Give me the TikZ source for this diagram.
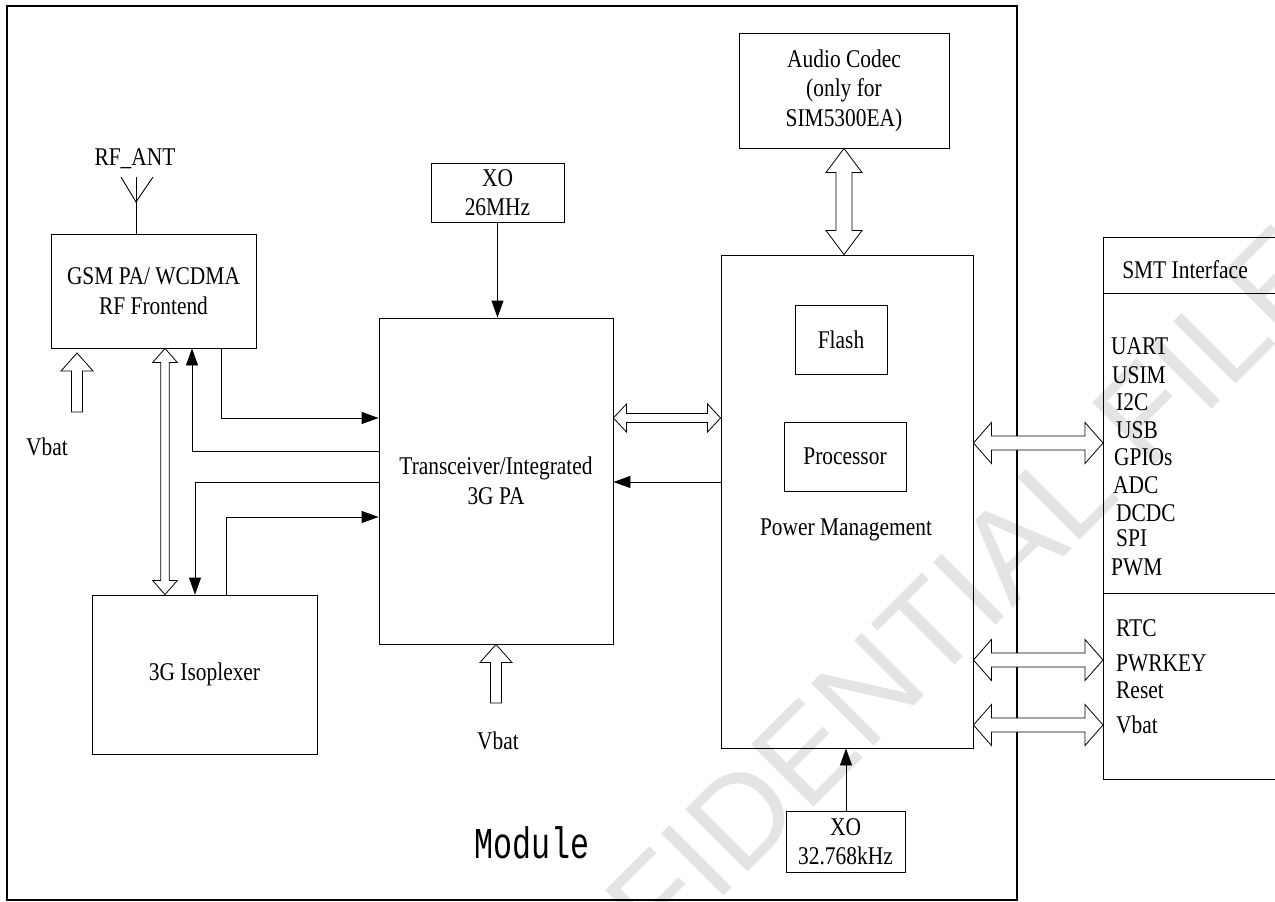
\documentclass[tikz,border=0pt]{standalone}
\usepackage{fontspec}
\setmainfont{Liberation Serif}[FakeStretch=0.84]
\newfontfamily\modfont{Liberation Mono}[FakeStretch=0.72]
\newfontfamily\wmfont{Liberation Sans}
\usetikzlibrary{arrows.meta,calc}
\definecolor{wm}{RGB}{228,228,228}
\tikzset{
  box/.style={draw, line width=0.9pt, inner sep=0pt, align=center},
  txt/.style={inner sep=0pt, align=center},
  lbl/.style={inner sep=0pt, anchor=west},
  arr/.style={line width=0.9pt, -{Triangle[length=17pt,width=12pt]}},
  wire/.style={line width=0.9pt},
  hollow/.style={draw, line width=0.8pt, fill=white, line join=miter},
}
% horizontal double hollow arrow: #1 left point, #2 right point, #3 shaft half, #4 head half, #5 head length
\newcommand\HDArrow[5]{%
  \path[hollow] let \p1=#1, \p2=#2 in
    (\x1,\y1) -- ({\x1+#5pt},{\y1+#4pt}) -- ({\x1+#5pt},{\y1+#3pt}) -- ({\x2-#5pt},{\y1+#3pt})
    -- ({\x2-#5pt},{\y1+#4pt}) -- (\x2,\y1) -- ({\x2-#5pt},{\y1-#4pt}) -- ({\x2-#5pt},{\y1-#3pt})
    -- ({\x1+#5pt},{\y1-#3pt}) -- ({\x1+#5pt},{\y1-#4pt}) -- cycle;}
% vertical double hollow arrow: #1 top point, #2 bottom point
\newcommand\VDArrow[5]{%
  \path[hollow] let \p1=#1, \p2=#2 in
    (\x1,\y1) -- ({\x1+#4pt},{\y1-#5pt}) -- ({\x1+#3pt},{\y1-#5pt}) -- ({\x1+#3pt},{\y2+#5pt})
    -- ({\x1+#4pt},{\y2+#5pt}) -- (\x1,\y2) -- ({\x1-#4pt},{\y2+#5pt}) -- ({\x1-#3pt},{\y2+#5pt})
    -- ({\x1-#3pt},{\y1-#5pt}) -- ({\x1-#4pt},{\y1-#5pt}) -- cycle;}
% single hollow up arrow: #1 tip, #2 bottom
\newcommand\UpHollow[5]{%
  \path[hollow] let \p1=#1, \p2=#2 in
    (\x1,\y1) -- ({\x1+#4pt},{\y1-#5pt}) -- ({\x1+#3pt},{\y1-#5pt}) -- ({\x1+#3pt},\y2)
    -- ({\x1-#3pt},\y2) -- ({\x1-#3pt},{\y1-#5pt}) -- ({\x1-#4pt},{\y1-#5pt}) -- cycle;}

\begin{document}
\begin{tikzpicture}[x=1pt,y=-1pt,font=\fontsize{25.5}{29.5}\selectfont]
\useasboundingbox (0,0) rectangle (1275,902);
\fill[white] (0,0) rectangle (1275,902);

% watermark
\node[rotate=45, text=wm, inner sep=0pt, font=\wmfont\fontsize{128}{128}\selectfont] (wmk) at (868,690) {CONFIDENTIAL FILE};

% module frame
\draw[line width=1.3pt] (7,6) rectangle (1017,900);
\node[txt, font=\modfont\fontsize{44}{44}\selectfont] (modlbl) at (532,843) {Module};

% blocks
\node[box, minimum width=205, minimum height=114] (gsm) at (153.5,291) {GSM PA/ WCDMA\\RF Frontend};
\node[box, minimum width=225, minimum height=159] (iso) at (204.5,674.5) {3G Isoplexer};
\node[box, minimum width=234, minimum height=326] (trx) at (496,481) {Transceiver/Integrated\\3G PA};
\node[box, minimum width=133, minimum height=59] (xo1) at (497.5,192.5) {XO\\26MHz};
\node[box, minimum width=252, minimum height=493] (pm) at (847,501.5) {};
\node[box, minimum width=92, minimum height=69] (flash) at (841,339.5) {Flash};
\node[box, minimum width=122, minimum height=69] (proc) at (845,456.5) {Processor};
\node[txt] (pmtxt) at (846,530) {Power Management};
\node[box, minimum width=210, minimum height=115] (audio) at (844,90.5) {Audio Codec\\(only for\\SIM5300EA)};
\node[box, minimum width=119, minimum height=61] (xo2) at (845.5,841.5) {XO\\32.768kHz};

% SMT interface
\node[draw, line width=0.9pt, inner sep=0pt, anchor=north west, minimum width=190, minimum height=542] (smt) at (1103,237) {};
\coordinate (d1) at (0,293);
\coordinate (d2) at (0,593);
\draw[wire] (smt.west |- d1) -- (smt.east |- d1);
\draw[wire] (smt.west |- d2) -- (smt.east |- d2);
\node[txt] (smttitle) at (1185,270) {SMT Interface};
\node[lbl] (uart) at (1111,346) {UART};
\node[lbl] (usim) at (1112,375) {USIM};
\node[lbl] (i2c) at (1116,402) {I2C};
\node[lbl] (usb) at (1116,430) {USB};
\node[lbl] (gpio) at (1114,457) {GPIOs};
\node[lbl] (adc) at (1113,485) {ADC};
\node[lbl] (dcdc) at (1116,513) {DCDC};
\node[lbl] (spi) at (1116,538) {SPI};
\node[lbl] (pwm) at (1111,567) {PWM};
\node[lbl] (rtc) at (1116,628) {RTC};
\node[lbl] (pwrkey) at (1116,663) {PWRKEY};
\node[lbl] (reset) at (1116,690) {Reset};
\node[lbl] (vbatr) at (1116,725) {Vbat};

% antenna
\node[txt] (rfant) at (135,159) {RF\_ANT};
\coordinate (ant) at (136,177);
\coordinate (antv) at (136,202);
\coordinate (antl) at (121,177);
\coordinate (antr) at (153,177);
\draw[wire] (gsm.north -| ant) -- (ant);
\draw[wire] (antl) -- (antv) -- (antr);

% Vbat labels and hollow supply arrows
\node[txt] (vbatl) at (47,447) {Vbat};
\node[txt] (vbatt) at (498,741) {Vbat};
\coordinate (vltip) at (77,353);
\coordinate (vlbot) at (77,412);
\UpHollow{(vltip)}{(vlbot)}{5.5}{16}{18}
\coordinate (vtbot) at (496,703);
\UpHollow{(trx.south)}{(trx.south |- vtbot)}{5.5}{16}{18}

% GSM <-> Isoplexer hollow double arrow
\coordinate (c0) at (165,0);
\VDArrow{(gsm.south -| c0)}{(iso.north -| c0)}{4.3}{12.3}{14}

% wires between RF blocks and transceiver
\coordinate (c1) at (221,418);
\coordinate (c2) at (192,451);
\coordinate (c3) at (195,482);
\coordinate (c4) at (226,517);
\draw[arr] (gsm.south -| c1) |- (trx.west |- c1);
\draw[arr] (trx.west |- c2) -| (gsm.south -| c2);
\draw[arr] (trx.west |- c3) -| (iso.north -| c3);
\draw[arr] (iso.north -| c4) |- (trx.west |- c4);

% XO arrows
\draw[arr] (xo1.south) -- (trx.north -| xo1.south);
\coordinate (c6) at (846,0);
\draw[arr] (xo2.north -| c6) -- (pm.south -| c6);

% transceiver <-> PM
\coordinate (c5) at (0,482);
\coordinate (c7) at (0,418);
\HDArrow{(trx.east |- c7)}{(pm.west |- c7)}{4.5}{14}{13}
\draw[arr] (pm.west |- c5) -- (trx.east |- c5);

% audio <-> PM
\VDArrow{(audio.south)}{(pm.north -| audio.south)}{8}{18}{24}

% PM <-> SMT
\coordinate (s1) at (0,443);
\coordinate (s2) at (0,660);
\coordinate (s3) at (0,725);
\HDArrow{(pm.east |- s1)}{(smt.west |- s1)}{7}{20.5}{18}
\HDArrow{(pm.east |- s2)}{(smt.west |- s2)}{7}{20.5}{18}
\HDArrow{(pm.east |- s3)}{(smt.west |- s3)}{7}{20.5}{18}
\end{tikzpicture}
\end{document}
